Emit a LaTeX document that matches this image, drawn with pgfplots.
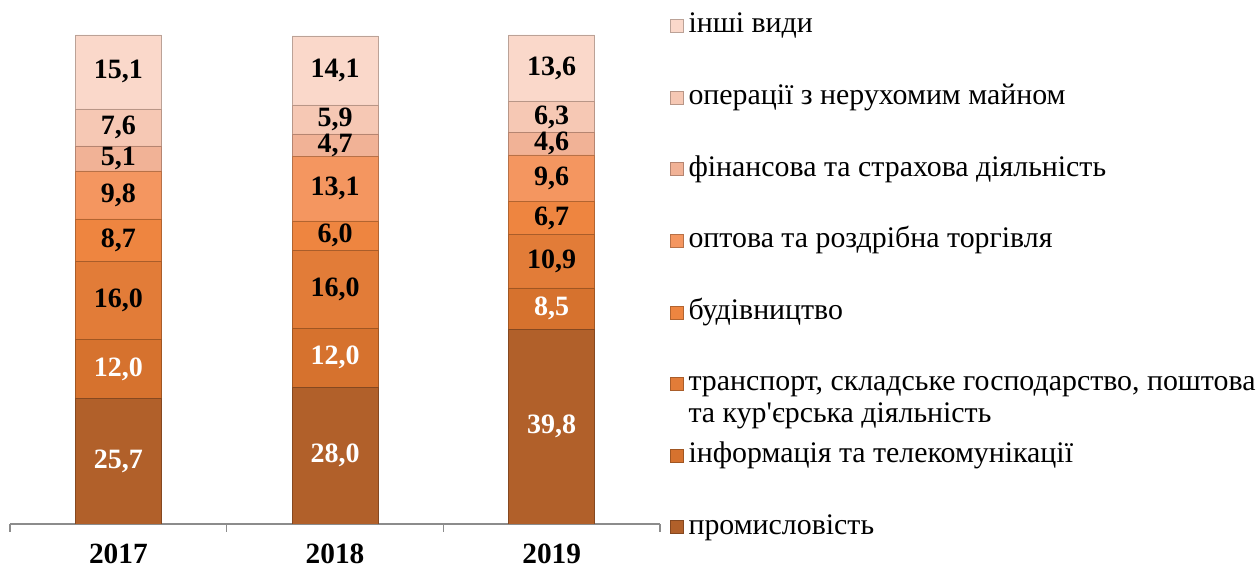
\documentclass[border=0pt]{standalone}
\usepackage{fontspec}
\setmainfont{Liberation Serif}
\usepackage{pgfplots}
\usepackage{pgfplotstable}
\pgfplotsset{compat=1.18}
\definecolor{c1}{RGB}{177,96,42}
\definecolor{c2}{RGB}{214,114,46}
\definecolor{c3}{RGB}{226,124,56}
\definecolor{c4}{RGB}{238,133,64}
\definecolor{c5}{RGB}{244,150,96}
\definecolor{c6}{RGB}{241,178,150}
\definecolor{c7}{RGB}{246,200,180}
\definecolor{c8}{RGB}{250,216,202}
\definecolor{axgray}{RGB}{140,140,140}
\pgfplotstableread{
x a b c d e f g h
1 25.7 12.0 16.0 8.7 9.8 5.1 7.6 15.1
2 28.0 12.0 16.0 6.0 13.1 4.7 5.9 14.1
3 39.8 8.5 10.9 6.7 9.6 4.6 6.3 13.6
}\datatable
\begin{document}
\begin{tikzpicture}
\begin{axis}[
  set layers,
  mark layer=axis foreground,
  scale only axis,
  width=487.5pt, height=366.75pt,
  ybar stacked,
  bar width=64.5pt,
  xmin=0.5, xmax=3.5,
  ymin=0, ymax=100,
  axis x line=bottom,
  axis y line=none,
  axis line style={-, draw=axgray, line width=0.8pt},
  xtick={1,2,3},
  xticklabels={2017,2018,2019},
  major tick length=0pt,
  minor xtick={0.5,1.5,2.5,3.5},
  minor tick length=6pt,
  tick align=outside,
  every minor tick/.style={draw=axgray, line width=0.8pt},
  xticklabel style={font=\fontsize{22}{26}\selectfont\bfseries, anchor=base, yshift=-30pt, inner sep=0pt},
  point meta=explicit,
  nodes near coords={\pgfmathprintnumber[fixed, fixed zerofill, precision=1, use comma, assume math mode=true]{\pgfplotspointmeta}},
  every node near coord/.append style={font=\fontsize{21}{25}\selectfont\bfseries, anchor=center, inner sep=0pt},
  reverse legend,
  legend cell align=left,
  legend image code/.code={\path[#1, line width=0.4pt] (0pt,-4.9pt) rectangle (9.75pt,4.9pt);},
  legend style={
    at={(axis description cs:1.01538,1.0916)}, anchor=north west,
    draw=none, fill=none, inner sep=0pt, outer sep=0pt,
    row sep=0pt, column sep=3.75pt,
    font=\fontsize{22.4}{23.5}\selectfont,
    nodes={inner sep=0pt, text height=32pt, text depth=21.7pt, anchor=west},
  },
]
\addplot[fill=c1, draw=c1!75!black, every node near coord/.append style={text=white}] table[x=x, y=a, meta=a] {\datatable};
\addplot[fill=c2, draw=c2!75!black, every node near coord/.append style={text=white}] table[x=x, y=b, meta=b] {\datatable};
\addplot[fill=c3, draw=c3!75!black, every node near coord/.append style={text=black}] table[x=x, y=c, meta=c] {\datatable};
\addplot[fill=c4, draw=c4!75!black, every node near coord/.append style={text=black}] table[x=x, y=d, meta=d] {\datatable};
\addplot[fill=c5, draw=c5!75!black, every node near coord/.append style={text=black}] table[x=x, y=e, meta=e] {\datatable};
\addplot[fill=c6, draw=c6!75!black, every node near coord/.append style={text=black}] table[x=x, y=f, meta=f] {\datatable};
\addplot[fill=c7, draw=c7!75!black, every node near coord/.append style={text=black}] table[x=x, y=g, meta=g] {\datatable};
\addplot[fill=c8, draw=c8!75!black, every node near coord/.append style={text=black}] table[x=x, y=h, meta=h] {\datatable};
\legend{промисловість,
  інформація та телекомунікації,
  {\smash{\begin{tabular}[t]{@{}l@{}}транспорт, складське господарство, поштова\\та кур\textquotesingle єрська діяльність\end{tabular}}},
  будівництво,
  оптова та роздрібна торгівля,
  фінансова та страхова діяльність,
  операції з нерухомим майном,
  інші види}
\path (rel axis cs:0,0) coordinate (O);
\end{axis}
\pgfresetboundingbox
\path[use as bounding box] ([shift={(-7.5pt,-34.5pt)}]O) rectangle ++(942pt,427.5pt);
\end{tikzpicture}
\end{document}
